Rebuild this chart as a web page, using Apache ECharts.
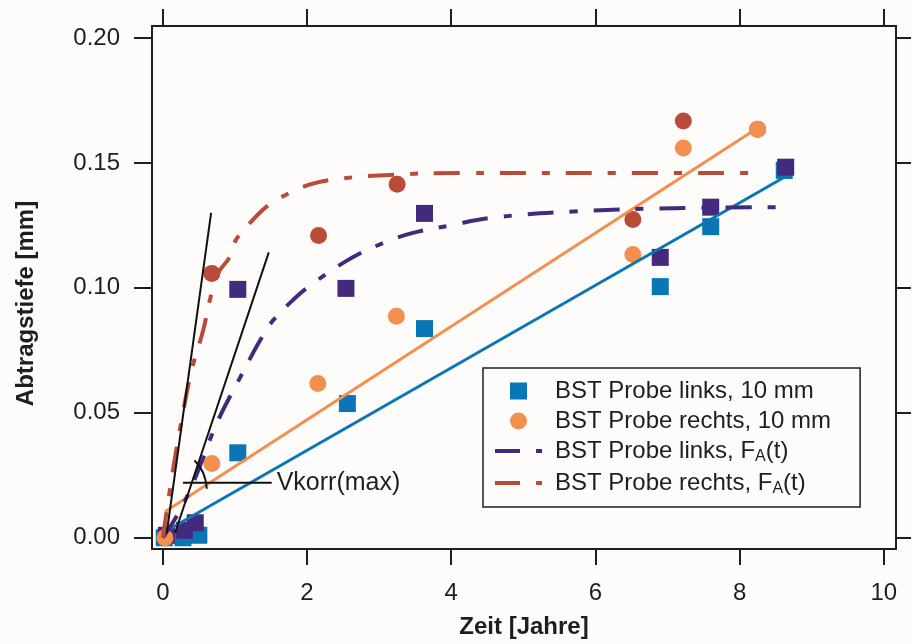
<!DOCTYPE html>
<html><head><meta charset="utf-8">
<script src="https://cdn.jsdelivr.net/npm/echarts@6/dist/echarts.min.js"></script>
<style>html,body{margin:0;padding:0;background:#fdfcfa}#c{width:912px;height:644px}</style>
</head><body><div id="c"></div>
<script>
// ---- data ----
const xTicks = [0, 2, 4, 6, 8, 10];
const yTicks = [0, 0.05, 0.10, 0.15, 0.20];

// BST Probe links, 10 mm (blue squares)
const linksX = [0.02, 0.28, 0.5, 1.04, 2.56, 3.63, 6.9, 7.6, 8.62];
const linksY = [0.000, 0.000, 0.001, 0.034, 0.0537, 0.0837, 0.1005, 0.1245, 0.147];
// BST Probe rechts, 10 mm (orange circles)
const rechtsX = [0.03, 0.68, 2.15, 3.24, 6.52, 7.22, 8.25];
const rechtsY = [0.000, 0.0297, 0.0617, 0.0886, 0.1134, 0.156, 0.1635];
// F_A data points, links (purple squares)
const linksFAX = [0.05, 0.3, 0.45, 1.04, 2.54, 3.63, 6.9, 7.6, 8.64];
const linksFAY = [0.001, 0.003, 0.006, 0.0994, 0.0998, 0.1298, 0.1122, 0.1323, 0.1483];
// F_A data points, rechts (red circles)
const rechtsFAX = [0.03, 0.68, 2.16, 3.25, 6.52, 7.22, 8.25];
const rechtsFAY = [0.000, 0.1058, 0.121, 0.1415, 0.1274, 0.1668, 0.1635];

// linear fits
const linksFitX = [0.1, 8.62];
const linksFitY = [0.0036, 0.1443];
const rechtsFitX = [0.03, 8.25];
const rechtsFitY = [0.0104, 0.164];

// F_A(t) curves
const linksCurveX = [0, 0.2, 0.375, 0.56, 0.75, 1.07, 1.35, 1.53, 1.8, 2.0, 2.56, 3.06, 3.47, 3.99, 4.54, 5.7, 7.08, 8.55];
const linksCurveY = [0, 0.009, 0.019, 0.032, 0.046, 0.064, 0.079, 0.087, 0.095, 0.100, 0.111, 0.118, 0.122, 0.125, 0.128, 0.1306, 0.1319, 0.1323];
const rechtsCurveX = [0, 0.14, 0.26, 0.4, 0.56, 0.66, 0.77, 0.92, 1.01, 1.21, 1.46, 1.76, 2.0, 2.28, 3.0, 4.2, 6.0, 8.3];
const rechtsCurveY = [0, 0.027, 0.047, 0.067, 0.083, 0.096, 0.106, 0.112, 0.119, 0.126, 0.133, 0.138, 0.141, 0.143, 0.145, 0.146, 0.146, 0.146];

// annotation: tangents, angle arc, Vkorr(max) pointer
const tan1X = [0.055, 0.67];
const tan1Y = [0.002, 0.130];
const tan2X = [0.17, 1.47];
const tan2Y = [0.002, 0.1142];
const arcX = [0.44, 0.56, 0.61];
const arcY = [0.0309, 0.026, 0.0196];
const pointerX = [0.28, 1.51];
const pointerY = [0.022, 0.022];
const annotationText = 'Vkorr(max)';

const names = ['BST Probe links, 10 mm', 'BST Probe rechts, 10 mm', 'BST Probe links, F_A(t)', 'BST Probe rechts, F_A(t)'];

// ---- helpers ----
const zip = (xs, ys) => xs.map((x, i) => [x, ys[i]]);
const FONT = '"Liberation Sans", Arial, Helvetica, sans-serif';
const INK = '#1e1e1e';
const BLUE = '#0a76b5', PURPLE = '#432a7c', ORANGE = '#f3904f', RED = '#b84c39';
const dashDot = [26, 16, 8, 16];
const dashDotIcon = 'path://M0,0L25,0L25,4L0,4Z M41,0L47,0L47,4L41,4Z';

const axLine = {show: true, onZero: false, lineStyle: {color: INK, width: 2}};
const tickStyle = {color: INK, width: 2};

const chart = echarts.init(document.getElementById('c'), null, {renderer: 'canvas'});
chart.setOption({
  backgroundColor: '#fdfcfa',
  animation: false,
  grid: {left: 152, right: 16, top: 26, bottom: 95, containLabel: false},
  xAxis: [
    {type: 'value', position: 'bottom', min: -0.15, max: 10.17, splitLine: {show: false},
     axisLine: axLine,
     axisTick: {show: true, inside: false, length: 16, customValues: xTicks, lineStyle: tickStyle},
     axisLabel: {show: true, customValues: xTicks, fontSize: 24, color: INK, margin: 32, fontFamily: FONT},
     name: 'Zeit [Jahre]', nameLocation: 'middle', nameGap: 66,
     nameTextStyle: {fontSize: 24, fontWeight: 'bold', color: INK, fontFamily: FONT}},
    {type: 'value', position: 'top', min: -0.15, max: 10.17, splitLine: {show: false},
     axisLine: axLine,
     axisTick: {show: true, inside: false, length: 17, customValues: xTicks, lineStyle: tickStyle},
     axisLabel: {show: false}}
  ],
  yAxis: [
    {type: 'value', position: 'left', min: -0.0045, max: 0.2048, splitLine: {show: false},
     axisLine: axLine,
     axisTick: {show: true, inside: false, length: 18, customValues: yTicks, lineStyle: tickStyle},
     axisLabel: {show: true, customValues: yTicks, fontSize: 24, color: INK, margin: 32, fontFamily: FONT,
                 formatter: v => v.toFixed(2)},
     name: 'Abtragstiefe [mm]', nameLocation: 'middle', nameGap: 114,
     nameTextStyle: {fontSize: 24, fontWeight: 'bold', color: INK, fontFamily: FONT, padding: [0, 32, 0, 0]}},
    {type: 'value', position: 'right', min: -0.0045, max: 0.2048, splitLine: {show: false},
     axisLine: axLine,
     axisTick: {show: true, inside: false, length: 15, customValues: yTicks, lineStyle: tickStyle},
     axisLabel: {show: false}}
  ],
  legend: {
    data: [
      {name: names[0], icon: 'path://M0,0L10,0L10,10L0,10Z'},
      {name: names[1], icon: 'circle'},
      {name: names[2], icon: dashDotIcon},
      {name: names[3], icon: dashDotIcon}
    ],
    orient: 'vertical', left: 483, top: 368,
    padding: [11, 29, 10, 12], itemGap: 6, itemWidth: 47, itemHeight: 17,
    borderColor: INK, borderWidth: 1.5, backgroundColor: '#fdfcfa',
    selectedMode: false,
    formatter: name => {
      if (name.indexOf('F_A') >= 0) {
        const p = name.split('F_A');
        return '{n|' + p[0] + 'F}{s|A}{n|' + p[1] + '}';
      }
      return '{n|' + name + '}';
    },
    textStyle: {
      fontFamily: FONT, fontSize: 24, color: INK, padding: [0, 0, 0, 8],
      rich: {
        n: {fontFamily: FONT, fontSize: 24, color: INK, lineHeight: 28, verticalAlign: 'middle'},
        s: {fontFamily: FONT, fontSize: 16, color: INK, lineHeight: 28, verticalAlign: 'bottom', padding: [10, 0, 0, 0]}
      }
    }
  },
  series: [
    {name: names[0], type: 'scatter', symbol: 'rect', symbolSize: 17, itemStyle: {color: BLUE, opacity: 1},
     data: zip(linksX, linksY), z: 3},
    {name: 'links F_A Daten', type: 'scatter', symbol: 'rect', symbolSize: 17, itemStyle: {color: PURPLE, opacity: 1},
     data: zip(linksFAX, linksFAY), z: 3},
    {name: 'rechts F_A Daten', type: 'scatter', symbol: 'circle', symbolSize: 17, itemStyle: {color: RED, opacity: 1},
     data: zip(rechtsFAX, rechtsFAY), z: 3},
    {name: names[1], type: 'scatter', symbol: 'circle', symbolSize: 17, itemStyle: {color: ORANGE, opacity: 1},
     data: zip(rechtsX, rechtsY), z: 3},
    {name: 'fit links', type: 'line', symbol: 'none', lineStyle: {color: BLUE, width: 3}, itemStyle: {color: BLUE},
     data: zip(linksFitX, linksFitY), z: 4},
    {name: 'fit rechts', type: 'line', symbol: 'none', lineStyle: {color: ORANGE, width: 3}, itemStyle: {color: ORANGE},
     data: zip(rechtsFitX, rechtsFitY), z: 4},
    {name: names[2], type: 'line', symbol: 'none', smooth: 0.4,
     lineStyle: {color: PURPLE, width: 4, type: dashDot}, itemStyle: {color: PURPLE},
     data: zip(linksCurveX, linksCurveY), z: 4},
    {name: names[3], type: 'line', symbol: 'none', smooth: 0.4,
     lineStyle: {color: RED, width: 4, type: dashDot}, itemStyle: {color: RED},
     data: zip(rechtsCurveX, rechtsCurveY), z: 4},
    {name: 'tangent 1', type: 'line', symbol: 'none', lineStyle: {color: '#111', width: 2},
     data: zip(tan1X, tan1Y), z: 5},
    {name: 'tangent 2', type: 'line', symbol: 'none', lineStyle: {color: '#111', width: 2},
     data: zip(tan2X, tan2Y), z: 5},
    {name: 'angle arc', type: 'line', symbol: 'none', smooth: true, lineStyle: {color: '#111', width: 2},
     data: zip(arcX, arcY), z: 5},
    {name: 'pointer', type: 'line', symbol: 'none', lineStyle: {color: '#111', width: 2},
     data: zip(pointerX, pointerY), z: 5,
     endLabel: {show: true, formatter: annotationText, fontFamily: FONT, fontSize: 25, color: INK, distance: 5}}
  ]
});
</script></body></html>
